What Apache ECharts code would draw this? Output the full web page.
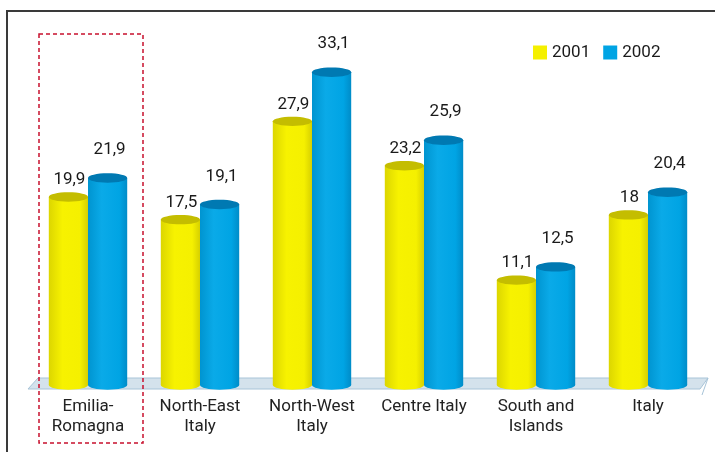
<!DOCTYPE html>
<html>
<head>
<meta charset="utf-8">
<script src="https://cdn.jsdelivr.net/npm/echarts@6/dist/echarts.min.js"></script>
<style>
html,body{margin:0;padding:0;background:#fff;}
#chart{width:715px;height:452px;}
</style>
</head>
<body>
<div id="chart"></div>
<script>
const categories = ['Emilia-\nRomagna', 'North-East\nItaly', 'North-West\nItaly', 'Centre Italy', 'South and\nIslands', 'Italy'];
const seriesNames = ['2001', '2002'];
const values2001 = [19.9, 17.5, 27.9, 23.2, 11.1, 18];
const values2002 = [21.9, 19.1, 33.1, 25.9, 12.5, 20.4];

const FONT = 'Roboto, "Liberation Sans", sans-serif';

const palettes = [
  { body: ['#dcd600', '#f7f200', '#f5f000', '#d6d000'], top: '#c4bd00', legend: '#f5f000', glow: 'rgba(240,240,120,0.5)', labelLift: 17, labelDx: 1 },
  { body: ['#0094d0', '#0aaae8', '#00a4e4', '#008cc8'], top: '#0079b2', legend: '#00a4e4', glow: 'rgba(80,210,255,0.55)', labelLift: 28, labelDx: 2 }
];

function fmt(v) { return String(v).replace('.', ','); }

function makeRender(side) {
  const pal = palettes[side];
  return function (params, api) {
    const idx = api.value(0);
    const v = api.value(1);
    const topPt = api.coord([idx, v]);
    const basePt = api.coord([idx, 0]);
    const band = api.size([1, 0])[0];
    const w = band * 0.35;
    const cx = topPt[0] + (side === 0 ? -w / 2 : w / 2);
    const ry = w * 0.12;
    const x0 = cx - w / 2;
    const grad = new echarts.graphic.LinearGradient(0, 0, 1, 0, [
      { offset: 0, color: pal.body[0] },
      { offset: 0.35, color: pal.body[1] },
      { offset: 0.8, color: pal.body[2] },
      { offset: 1, color: pal.body[3] }
    ]);
    return {
      type: 'group',
      children: [
        {
          type: 'rect',
          shape: { x: x0, y: topPt[1], width: w, height: basePt[1] - topPt[1] },
          style: { fill: grad, shadowBlur: 6, shadowColor: pal.glow }
        },
        {
          type: 'ellipse',
          shape: { cx: cx, cy: basePt[1], rx: w / 2, ry: ry },
          style: { fill: grad }
        },
        {
          type: 'ellipse',
          shape: { cx: cx, cy: topPt[1], rx: w / 2, ry: ry },
          style: { fill: pal.top }
        },
        {
          type: 'text',
          style: {
            text: fmt(v),
            x: cx + pal.labelDx,
            y: topPt[1] - pal.labelLift,
            align: 'center',
            verticalAlign: 'middle',
            font: '17px ' + FONT,
            fill: '#1a1a1a'
          }
        }
      ]
    };
  };
}

const chart = echarts.init(document.getElementById('chart'), null, { renderer: 'canvas' });

const option = {
  animation: false,
  backgroundColor: '#ffffff',
  textStyle: { fontFamily: FONT },
  grid: { left: 32, right: 11, top: 7, bottom: 67 },
  legend: {
    data: seriesNames,
    left: 528,
    top: 39,
    icon: 'rect',
    itemWidth: 14,
    itemHeight: 14,
    itemGap: 13,
    textStyle: { fontSize: 17, color: '#1a1a1a', fontFamily: FONT }
  },
  xAxis: {
    type: 'category',
    data: categories,
    axisLine: { show: false },
    axisTick: { show: false },
    splitLine: { show: false },
    axisLabel: {
      fontSize: 17,
      color: '#222',
      lineHeight: 20,
      margin: 12,
      fontFamily: FONT,
      interval: 0
    }
  },
  yAxis: {
    type: 'value',
    min: 0,
    max: 40,
    show: false
  },
  series: [
    {
      name: seriesNames[0],
      type: 'custom',
      renderItem: makeRender(0),
      encode: { x: 0, y: 1 },
      itemStyle: { color: palettes[0].legend },
      clip: false,
      data: values2001.map((v, i) => [i, v])
    },
    {
      name: seriesNames[1],
      type: 'custom',
      renderItem: makeRender(1),
      encode: { x: 0, y: 1 },
      itemStyle: { color: palettes[1].legend },
      clip: false,
      data: values2002.map((v, i) => [i, v])
    }
  ]
};

chart.setOption(option);

// Decorations derived from the axes
const p0 = chart.convertToPixel({ seriesIndex: 0 }, [0, 0]);
const p5 = chart.convertToPixel({ seriesIndex: 0 }, [categories.length - 1, 0]);
const band = (p5[0] - p0[0]) / (categories.length - 1);
const left = p0[0] - band / 2;
const right = p5[0] + band / 2;
const base = p0[1];

chart.setOption({
  graphic: [
    {
      type: 'polygon',
      z: -1,
      shape: { points: [[left + 6, base - 7], [right + 4, base - 7], [right - 4, base + 4], [left - 4, base + 4]] },
      style: { fill: '#d4e2ec', stroke: '#a8c4d8', lineWidth: 1 }
    },
    {
      type: 'line',
      z: -1,
      shape: { x1: right + 4, y1: base - 7, x2: right - 2, y2: base + 10 },
      style: { stroke: '#a8c4d8', lineWidth: 1 }
    },
    {
      type: 'rect',
      z: 10,
      shape: { x: p0[0] - 49, y: 34, width: 104, height: 409 },
      style: { fill: 'none', stroke: '#c8102e', lineWidth: 1.5, lineDash: [4, 3] }
    },
    {
      type: 'polyline',
      z: 10,
      shape: { points: [[7, 452], [7, 11], [715, 11]] },
      style: { fill: 'none', stroke: '#3a3a3a', lineWidth: 2 }
    }
  ]
});
</script>
</body>
</html>
